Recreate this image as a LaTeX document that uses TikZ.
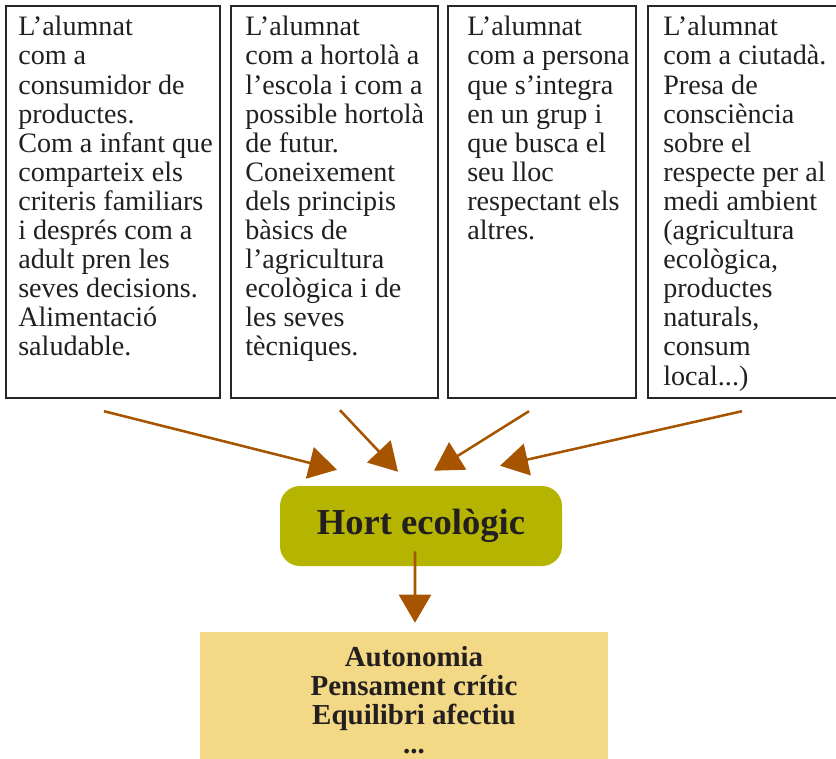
\documentclass[tikz,border=0pt]{standalone}
\usepackage{fontspec}
\setmainfont{Liberation Serif}
\usepackage{xcolor}
\usepackage{tikz}
\usetikzlibrary{positioning,arrows.meta,calc}

\definecolor{arrbrown}{RGB}{166,84,0}
\definecolor{hortolive}{RGB}{181,180,0}
\definecolor{fxyellow}{RGB}{243,217,133}
\definecolor{inkdark}{RGB}{35,31,32}

\begin{document}
\begin{tikzpicture}[
    colbox/.style={draw=black!85, line width=1.7pt, minimum height=9.8cm},
    coltext/.style={anchor=north west, inner sep=0pt, align=left, text=inkdark,
                font=\fontsize{20}{20.7}\selectfont},
    arr/.style={-{Triangle[length=7mm, width=8mm]}, line width=1.8pt, draw=arrbrown},
    scale=1.0]
  \useasboundingbox (0,0) rectangle (20.9,-18.95);
  % the four columns
  \node[colbox, minimum width=5.35cm] (c1) at (2.825,-5.05) {};
  \node[colbox, minimum width=5.175cm] (c2) at (8.3625,-5.05) {};
  \node[colbox, minimum width=4.7cm] (c3) at (13.55,-5.05) {};
  \node[colbox, minimum width=4.8cm] (c4) at (18.6,-5.05) {};
  \node[coltext] (t1) at (0.45,-0.4) {L’alumnat\\com a\\consumidor de\\productes.\\Com a infant que\\comparteix els\\criteris familiars\\i després com a\\adult pren les\\seves decisions.\\Alimentació\\saludable.};
  \node[coltext] (t2) at (6.125,-0.4) {L’alumnat\\com a hortolà a\\l’escola i com a\\possible hortolà\\de futur.\\Coneixement\\dels principis\\bàsics de\\l’agricultura\\ecològica i de\\les seves\\tècniques.};
  \node[coltext] (t3) at (11.675,-0.4) {L’alumnat\\com a persona\\que s’integra\\en un grup i\\que busca el\\seu lloc\\respectant els\\altres.};
  \node[coltext] (t4) at (16.575,-0.4) {L’alumnat\\com a ciutadà.\\Presa de\\consciència\\sobre el\\respecte per al\\medi ambient\\(agricultura\\ecològica,\\productes\\naturals,\\consum\\local...)};
  % centre and result
  \node[fill=hortolive, rounded corners=0.5cm, minimum width=7.05cm, minimum height=2.0cm,
        text=inkdark, font=\fontsize{26}{28}\selectfont\bfseries] (hort) at (10.525,-13.15) {Hort ecològic};
  \node[fill=fxyellow, minimum width=10.2cm, minimum height=3.3cm] (fx) at (10.1,-17.45) {};
  \node[align=center, text=inkdark, font=\fontsize{20.6}{20.6}\selectfont\bfseries] (fxtext)
        at ([xshift=0.25cm,yshift=-0.05cm]fx.center) {Autonomia\\Pensament crític\\Equilibri afectiu\\...};
  \draw[arr] ([xshift=-0.225cm,yshift=-0.3cm]c1.south) -- ([xshift=-2.1cm,yshift=0.4cm]hort.north);
  \draw[arr] ([xshift=0.1375cm,yshift=-0.275cm]c2.south) -- ([xshift=-0.575cm,yshift=0.35cm]hort.north);
  \draw[arr] ([xshift=-0.325cm,yshift=-0.3cm]c3.south) -- ([xshift=0.325cm,yshift=0.375cm]hort.north);
  \draw[arr] ([xshift=-0.05cm,yshift=-0.3cm]c4.south) -- ([xshift=1.975cm,yshift=0.5cm]hort.north);
  \draw[arr] ([xshift=-0.15cm,yshift=0.375cm]hort.south) -- ([xshift=0.275cm,yshift=0.225cm]fx.north);
\end{tikzpicture}
\end{document}
